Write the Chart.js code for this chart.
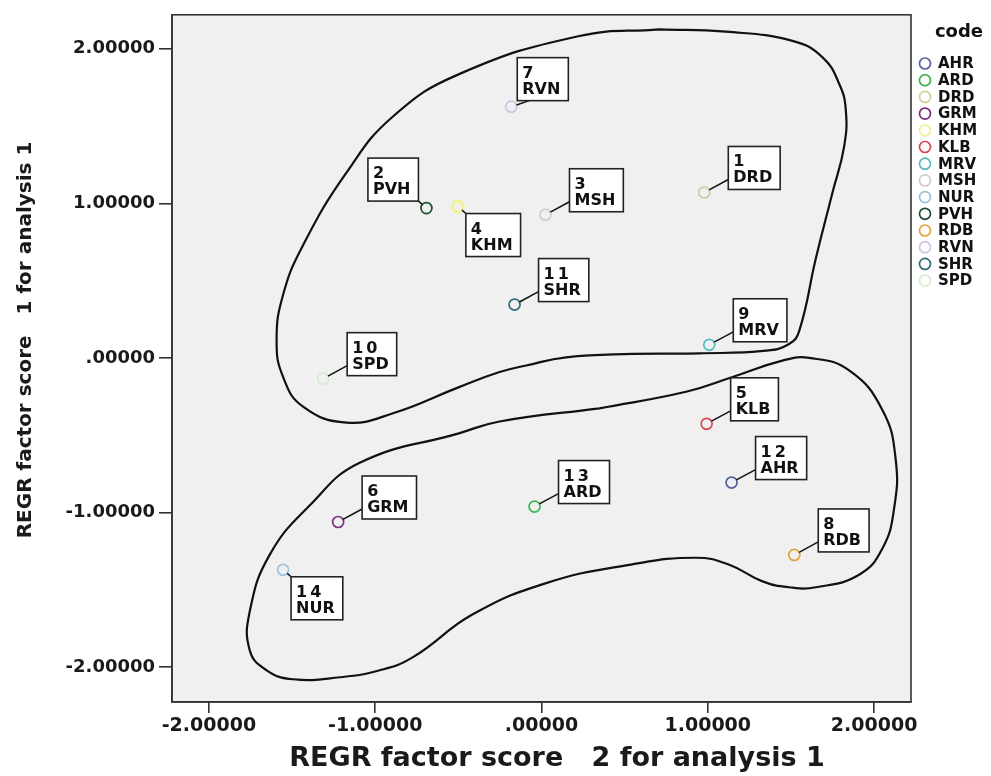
<!DOCTYPE html>
<html>
<head>
<meta charset="utf-8">
<script src="https://cdn.jsdelivr.net/npm/chart.js@4.4.1/dist/chart.umd.min.js"></script>
<style>
body{margin:0;background:#fff}
#wrap{width:991px;height:776px}
</style>
</head>
<body>
<div id="wrap"><canvas id="mycanvas"></canvas></div>
<script>
// cases, in case number order
var caseNo = [1, 2, 3, 4, 5, 6, 7, 8, 9, 10, 11, 12, 13, 14];
var codes  = ['DRD','PVH','MSH','KHM','KLB','GRM','RVN','RDB','MRV','SPD','SHR','AHR','ARD','NUR'];
// REGR factor score 2 (x) and 1 (y)
var score2 = [0.979, -0.692, 0.024, -0.503, 0.993, -1.223, -0.182, 1.520, 1.009, -1.313, -0.162, 1.143, -0.042, -1.554];
var score1 = [1.070, 0.969, 0.926, 0.979, -0.426, -1.061, 1.625, -1.274, 0.085, -0.134, 0.345, -0.806, -0.961, -1.370];

var xTicks = [-2, -1, 0, 1, 2];
var yTicks = [-2, -1, 0, 1, 2];

// hand drawn outlines round the two groups
var groupAx = [0.709, 1.109, 1.509, 1.690, 1.790, 1.830, 1.820, 1.750, 1.650, 1.550, 1.489, 1.350, 0.949, 0.548, 0.148, -0.092, -0.252, -0.492, -0.893, -1.173, -1.434, -1.554, -1.593, -1.554, -1.434, -1.173, -0.895, -0.492, 0.228, 0.709];
var groupAy = [2.125, 2.110, 2.050, 1.944, 1.773, 1.603, 1.368, 1.070, 0.644, 0.175, 0.090, 0.047, 0.030, 0.026, 0.004, -0.049, -0.091, -0.187, -0.358, -0.418, -0.315, -0.123, 0.111, 0.409, 0.729, 1.198, 1.560, 1.837, 2.082, 2.125];
var groupBx = [0.348, 0.869, 1.149, 1.449, 1.610, 1.850, 2.050, 2.130, 2.120, 2.050, 1.910, 1.650, 1.489, 1.329, 1.129, 0.929, 0.529, 0.028, -0.413, -0.773, -0.973, -1.213, -1.494, -1.653, -1.754, -1.754, -1.634, -1.393, -1.093, -0.492, -0.252, 0.348];
var groupBy = [-0.326, -0.219, -0.123, -0.017, 0.000, -0.081, -0.337, -0.657, -0.976, -1.232, -1.402, -1.483, -1.483, -1.445, -1.338, -1.292, -1.338, -1.456, -1.658, -1.935, -2.020, -2.065, -2.078, -2.020, -1.893, -1.637, -1.272, -0.953, -0.678, -0.486, -0.411, -0.326];

var colours = {
	AHR: '#56609e', ARD: '#3cb550', DRD: '#d3cc98', GRM: '#7a2f7c', KHM: '#f3ef94',
	KLB: '#d9474c', MRV: '#55bcc2', MSH: '#cdcdcd', NUR: '#9cc2da', PVH: '#1f4d2e',
	RDB: '#e3a23c', RVN: '#d6c0e6', SHR: '#2f6d79', SPD: '#d3eecd'
};
// where the case label box sits against its point
var labelPlace = ['ne','nw','ne','se','ne','ne','near','ne','ne','ne','ne','ne','ne','se'];

var FONT = '"DejaVu Sans", sans-serif';

function toPoints(xs, ys) {
	var pts = [];
	for (var i = 0; i < xs.length; i++) pts.push({x: xs[i], y: ys[i]});
	return pts;
}

var datasets = [];
for (var i = 0; i < codes.length; i++) {
	datasets.push({
		label: codes[i],
		data: [{x: score2[i], y: score1[i]}],
		borderColor: colours[codes[i]],
		backgroundColor: 'rgba(0,0,0,0)',
		pointRadius: 5.5,
		pointBorderWidth: codes[i] === 'KHM' ? 3 : 1.7,
		pointHoverRadius: 5.5
	});
}
[toPoints(groupAx, groupAy), toPoints(groupBx, groupBy)].forEach(function(pts) {
	datasets.push({
		label: '',
		data: pts,
		showLine: true,
		tension: 0.45,
		borderColor: '#111',
		borderWidth: 2.2,
		pointRadius: 0
	});
});

function fmt(v) {
	var s = Math.abs(v).toFixed(5);
	if (s.charAt(0) === '0') s = s.substring(1);
	return (v < 0 ? '-' : '') + s;
}

var framePlugin = {
	id: 'frame',
	beforeDraw: function(chart) {
		var a = chart.chartArea, ctx = chart.ctx;
		ctx.save();
		ctx.fillStyle = '#f0f0f0';
		ctx.fillRect(a.left, a.top, a.right - a.left, a.bottom - a.top);
		ctx.restore();
	},
	afterDatasetsDraw: function(chart) {
		var ctx = chart.ctx, xs = chart.scales.x, ys = chart.scales.y;
		ctx.save();
		for (var i = 0; i < codes.length; i++) {
			var px = xs.getPixelForValue(score2[i]);
			var py = ys.getPixelForValue(score1[i]);
			ctx.font = 'bold 16px ' + FONT;
			ctx.letterSpacing = '3px';
			var w1 = ctx.measureText(String(caseNo[i])).width;
			ctx.letterSpacing = '0px';
			var w2 = ctx.measureText(codes[i]).width;
			var w = Math.max(w1, w2) + 13, h = 43;
			var place = labelPlace[i], left, top, ex, ey;
			if (place === 'nw') {
				left = px - 8 - w; top = py - 7 - h; ex = left + w; ey = top + h;
			} else if (place === 'se') {
				left = px + 8; top = py + 7; ex = left; ey = top;
			} else if (place === 'near') {
				left = px + 6; top = py - 6 - h; ex = left + 12; ey = top + h;
			} else {
				left = px + 24; top = py - 3 - h; ex = left; ey = top + h - 10;
			}
			// leader line
			var dx = ex - px, dy = ey - py, d = Math.sqrt(dx * dx + dy * dy);
			if (d > 6) {
				ctx.strokeStyle = '#111';
				ctx.lineWidth = 1.5;
				ctx.beginPath();
				ctx.moveTo(px + dx / d * 5.5, py + dy / d * 5.5);
				ctx.lineTo(ex, ey);
				ctx.stroke();
			}
			ctx.fillStyle = '#fff';
			ctx.fillRect(left, top, w, h);
			ctx.strokeStyle = '#222';
			ctx.lineWidth = 1.6;
			ctx.strokeRect(left, top, w, h);
			ctx.fillStyle = '#111';
			ctx.textAlign = 'left';
			ctx.textBaseline = 'alphabetic';
			ctx.letterSpacing = '3px';
			ctx.fillText(String(caseNo[i]), left + 5, top + 20);
			ctx.letterSpacing = '0px';
			ctx.fillText(codes[i], left + 5, top + 36);
		}
		ctx.restore();
	},
	afterDraw: function(chart) {
		var a = chart.chartArea, ctx = chart.ctx;
		ctx.save();
		ctx.strokeStyle = '#333';
		ctx.lineWidth = 1.6;
		ctx.strokeRect(a.left, a.top, a.right - a.left, a.bottom - a.top);

		// axis titles
		ctx.fillStyle = '#1a1a1a';
		ctx.textAlign = 'center';
		ctx.textBaseline = 'middle';
		ctx.font = 'bold 27px ' + FONT;
		ctx.fillText('REGR factor score   2 for analysis 1', 557, 759);
		ctx.translate(26, 340);
		ctx.rotate(-Math.PI / 2);
		ctx.font = 'bold 20px ' + FONT;
		ctx.fillText('REGR factor score   1 for analysis 1', 0, 0);
		ctx.restore();

		// legend
		ctx.save();
		var order = codes.slice().sort();
		ctx.fillStyle = '#111';
		ctx.textAlign = 'center';
		ctx.textBaseline = 'middle';
		ctx.font = 'bold 18px ' + FONT;
		ctx.fillText('code', 959, 32);
		ctx.textAlign = 'left';
		ctx.font = 'bold 15px ' + FONT;
		for (var k = 0; k < order.length; k++) {
			var ly = 63.5 + k * 16.7;
			ctx.strokeStyle = colours[order[k]];
			ctx.lineWidth = 1.7;
			ctx.beginPath();
			ctx.arc(925, ly, 5.5, 0, Math.PI * 2);
			ctx.stroke();
			ctx.fillStyle = '#111';
			ctx.fillText(order[k], 938, ly + 1);
		}
		ctx.restore();
	}
};

var ctx = document.getElementById('mycanvas');
var chart = new Chart(ctx, {
	type: 'scatter',
	data: {datasets: datasets},
	options: {
		responsive: true,
		maintainAspectRatio: false,
		animation: false,
		layout: {padding: {top: 7, right: 80, left: 0, bottom: 0}},
		plugins: {legend: {display: false}, tooltip: {enabled: false}},
		scales: {
			x: {
				min: -2.222, max: 2.222,
				afterBuildTicks: function(s) { s.ticks = xTicks.map(function(v) { return {value: v}; }); },
				afterFit: function(s) { s.height = 74; },
				grid: {drawOnChartArea: false, drawTicks: true, tickLength: 11, color: '#333', lineWidth: 1.6},
				border: {display: true, color: '#333', width: 1.6},
				ticks: {padding: 2, color: '#1a1a1a', font: {family: FONT, weight: 'bold', size: 19}, callback: fmt}
			},
			y: {
				min: -2.225, max: 2.219,
				afterBuildTicks: function(s) { s.ticks = yTicks.map(function(v) { return {value: v}; }); },
				afterFit: function(s) { s.width = 172; },
				grid: {drawOnChartArea: false, drawTicks: true, tickLength: 13, color: '#333', lineWidth: 1.6},
				border: {display: true, color: '#333', width: 1.6},
				ticks: {padding: 4, color: '#1a1a1a', font: {family: FONT, weight: 'bold', size: 18}, callback: fmt}
			}
		}
	},
	plugins: [framePlugin]
});
</script>
</body>
</html>
